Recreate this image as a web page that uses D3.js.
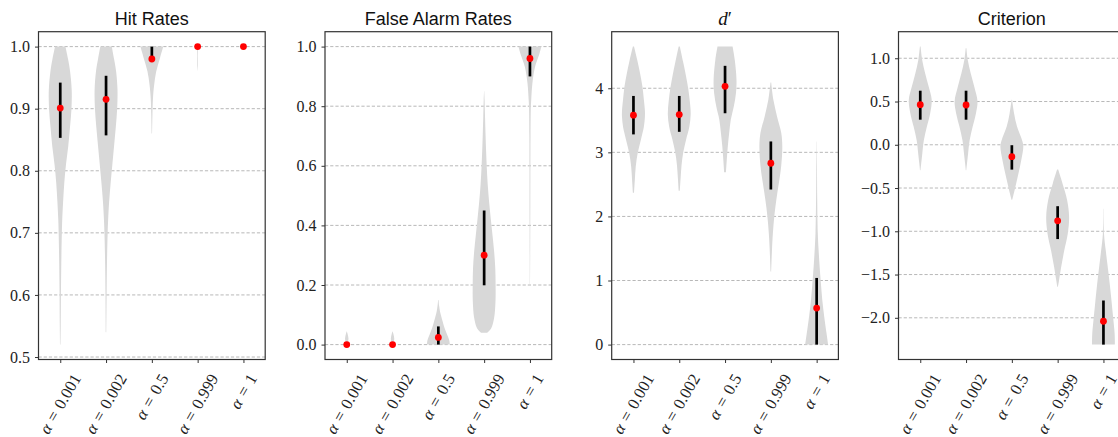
<!DOCTYPE html>
<html>
<head>
<meta charset="utf-8">
<script src="https://cdn.jsdelivr.net/npm/d3@7"></script>
<style>
  body { margin: 0; background: #ffffff; }
  svg { display: block; }
</style>
</head>
<body>
<script>
// ---------------- DATA ----------------
const alphaLabels = ["0.001", "0.002", "0.5", "0.999", "1"];
const positions = [1, 2, 3, 4, 5];

const titles = ["Hit Rates", "False Alarm Rates", "d′", "Criterion"];

// medians (red dots) and whisker ranges
const hitMedian = [0.901, 0.915, 0.980, 1.0, 1.0];
const hitLow    = [0.853, 0.857, 0.976, 1.0, 1.0];
const hitHigh   = [0.942, 0.953, 1.0, 1.0, 1.0];

const faMedian = [0.0, 0.0, 0.024, 0.30, 0.96];
const faLow    = [0.0, 0.0, 0.0, 0.199, 0.90];
const faHigh   = [0.0, 0.0, 0.061, 0.45, 1.0];

const dMedian = [3.58, 3.59, 4.03, 2.83, 0.57];
const dLow    = [3.28, 3.32, 3.61, 2.42, 0.0];
const dHigh   = [3.88, 3.88, 4.35, 3.17, 1.04];

const cMedian = [0.463, 0.460, -0.137, -0.879, -2.04];
const cLow    = [0.29, 0.29, -0.287, -1.09, -2.31];
const cHigh   = [0.625, 0.625, -0.005, -0.71, -1.80];

// violin profiles: [value, relative density (max = 1)]
const hitViolins = [
  [[0.52,0.02],[0.55,0.04],[0.60,0.06],[0.65,0.09],[0.70,0.14],[0.72,0.17],[0.75,0.25],[0.78,0.35],[0.81,0.5],[0.84,0.7],[0.87,0.85],[0.90,0.98],[0.93,1.0],[0.96,0.86],[0.98,0.68],[1.0,0.45]],
  [[0.54,0.02],[0.60,0.05],[0.65,0.08],[0.70,0.14],[0.72,0.18],[0.75,0.27],[0.78,0.4],[0.81,0.55],[0.84,0.7],[0.87,0.85],[0.90,0.97],[0.93,1.0],[0.96,0.88],[0.98,0.7],[1.0,0.5]],
  [[0.86,0.02],[0.89,0.05],[0.917,0.1],[0.938,0.2],[0.96,0.38],[0.981,0.7],[1.0,1.0]],
  [[0.96,0.0],[0.97,0.03],[0.99,0.03],[0.998,0.06],[1.0,0.15]],
  []
];
const faViolins = [
  [[0.0,0.3],[0.005,0.1],[0.02,0.15],[0.035,0.08],[0.045,0.0]],
  [[0.0,0.3],[0.005,0.1],[0.02,0.15],[0.035,0.08],[0.045,0.0]],
  [[0.0,1.0],[0.015,0.95],[0.033,0.77],[0.055,0.55],[0.078,0.37],[0.095,0.25],[0.11,0.15],[0.13,0.07],[0.15,0.02]],
  [[0.04,0.28],[0.055,0.62],[0.089,0.87],[0.145,0.99],[0.2,1.0],[0.257,0.97],[0.313,0.87],[0.37,0.72],[0.426,0.57],[0.48,0.43],[0.538,0.31],[0.594,0.23],[0.65,0.17],[0.707,0.12],[0.76,0.08],[0.82,0.04],[0.85,0.01]],
  [[0.2,0.01],[0.4,0.03],[0.6,0.04],[0.7,0.05],[0.8,0.08],[0.82,0.11],[0.875,0.21],[0.93,0.43],[0.976,0.83],[1.0,1.0]]
];
const dViolins = [
  [[2.37,0.05],[2.57,0.12],[2.78,0.2],[2.99,0.37],[3.19,0.64],[3.4,0.91],[3.55,1.0],[3.65,1.0],[3.82,0.91],[4.03,0.78],[4.23,0.58],[4.44,0.33],[4.65,0.05]],
  [[2.40,0.05],[2.6,0.12],[2.8,0.2],[3.0,0.35],[3.2,0.6],[3.4,0.88],[3.6,1.0],[3.8,0.92],[4.0,0.78],[4.2,0.58],[4.4,0.35],[4.65,0.05]],
  [[2.69,0.08],[2.88,0.15],[3.09,0.24],[3.3,0.36],[3.51,0.5],[3.71,0.76],[3.92,0.95],[4.13,1.0],[4.44,0.85],[4.65,0.66]],
  [[1.14,0.03],[1.48,0.1],[1.74,0.18],[2.0,0.3],[2.26,0.48],[2.52,0.7],[2.78,0.9],[3.09,1.0],[3.3,0.91],[3.56,0.54],[3.82,0.22],[4.09,0.03]],
  [[0.0,1.0],[0.18,0.86],[0.44,0.66],[0.7,0.49],[0.96,0.37],[1.22,0.26],[1.48,0.17],[1.74,0.1],[2.26,0.05],[2.7,0.03],[3.17,0.01]]
];
const cViolins = [
  [[-0.295,0.02],[-0.22,0.08],[-0.1,0.18],[0.05,0.31],[0.21,0.58],[0.36,0.86],[0.52,1.0],[0.67,0.74],[0.83,0.42],[0.98,0.17],[1.135,0.03]],
  [[-0.295,0.02],[-0.22,0.08],[-0.1,0.18],[0.05,0.31],[0.21,0.58],[0.36,0.86],[0.5,1.0],[0.67,0.72],[0.83,0.4],[0.98,0.15],[1.115,0.03]],
  [[-0.635,0.03],[-0.6,0.1],[-0.49,0.3],[-0.33,0.58],[-0.18,0.82],[-0.02,1.0],[0.05,0.9],[0.21,0.45],[0.36,0.2],[0.52,0.02]],
  [[-1.64,0.03],[-1.57,0.12],[-1.42,0.3],[-1.22,0.58],[-1.03,0.88],[-0.836,1.0],[-0.64,0.83],[-0.45,0.43],[-0.287,0.05]],
  [[-2.31,1.0],[-2.19,0.98],[-2.0,0.85],[-1.8,0.7],[-1.61,0.55],[-1.42,0.38],[-1.22,0.2],[-1.03,0.05],[-0.74,0.01]]
];

// y-axis domains and ticks
const hitDomain = [0.496, 1.024];
const faDomain  = [-0.05, 1.05];
const dDomain   = [-0.2325, 4.8825];
const cDomain   = [-2.482, 1.307];
const hitTicks = [0.5, 0.6, 0.7, 0.8, 0.9, 1.0];
const faTicks  = [0.0, 0.2, 0.4, 0.6, 0.8, 1.0];
const dTicks   = [0, 1, 2, 3, 4];
const cTicks   = [-2.0, -1.5, -1.0, -0.5, 0.0, 0.5, 1.0];

// ---------------- LAYOUT ----------------
const W = 1118, H = 437;
const panelLefts = [38.5, 325, 611.7, 898.5];
const panelW = 226.7;
const plotTop = 31.7, plotBottom = 359.5;

const panels = [
  { title: titles[0], italic: false, med: hitMedian, lo: hitLow, hi: hitHigh, vio: hitViolins, dom: hitDomain, ticks: hitTicks, fmt: d3.format(".1f") },
  { title: titles[1], italic: false, med: faMedian, lo: faLow, hi: faHigh, vio: faViolins, dom: faDomain, ticks: faTicks, fmt: d3.format(".1f") },
  { title: titles[2], italic: true,  med: dMedian, lo: dLow, hi: dHigh, vio: dViolins, dom: dDomain, ticks: dTicks, fmt: d3.format("d") },
  { title: titles[3], italic: false, med: cMedian, lo: cLow, hi: cHigh, vio: cViolins, dom: cDomain, ticks: cTicks, fmt: d3.format(".1f") }
];

const svg = d3.select("body").append("svg").attr("width", W).attr("height", H);

const serif = "'Liberation Serif', 'DejaVu Serif', serif";
const sans = "'Liberation Sans', 'DejaVu Sans', sans-serif";

panels.forEach((p, pi) => {
  const left = panelLefts[pi], right = left + panelW;
  const x = d3.scaleLinear().domain([0.525, 5.475]).range([left, right]);
  const y = d3.scaleLinear().domain(p.dom).range([plotBottom, plotTop]);
  const halfW = d3.scaleLinear().domain([0, 1]).range([0, x(1.25) - x(1)]);
  const g = svg.append("g");

  // grid
  g.selectAll("line.grid").data(p.ticks).join("line")
    .attr("class", "grid")
    .attr("x1", left).attr("x2", right)
    .attr("y1", d => y(d)).attr("y2", d => y(d))
    .attr("stroke", "#b0b0b0").attr("stroke-width", 0.9)
    .attr("stroke-dasharray", "3.2,2");

  // violins
  const area = d3.area()
    .y(d => y(d.v))
    .x0(d => x(d.pos) - halfW(d.w))
    .x1(d => x(d.pos) + halfW(d.w))
    .curve(d3.curveCatmullRom.alpha(0.5));
  p.vio.forEach((prof, i) => {
    if (!prof.length) return;
    const pts = prof.map(([v, w]) => ({ v, w, pos: positions[i] }));
    g.append("path").attr("d", area(pts)).attr("fill", "#d8d8d8").attr("stroke", "none");
  });

  // whiskers
  g.selectAll("line.wh").data(positions).join("line")
    .attr("class", "wh")
    .attr("x1", (d) => x(d)).attr("x2", (d) => x(d))
    .attr("y1", (d, i) => y(p.lo[i])).attr("y2", (d, i) => y(p.hi[i]))
    .attr("stroke", "#000").attr("stroke-width", 2.7);

  // medians
  g.selectAll("circle.med").data(positions).join("circle")
    .attr("class", "med")
    .attr("cx", d => x(d)).attr("cy", (d, i) => y(p.med[i]))
    .attr("r", 3.4).attr("fill", "#ff0000");

  // frame
  g.append("rect").attr("x", left).attr("y", plotTop)
    .attr("width", panelW).attr("height", plotBottom - plotTop)
    .attr("fill", "none").attr("stroke", "#333").attr("stroke-width", 1.2);

  // y axis
  const yAxis = d3.axisLeft(y).tickValues(p.ticks).tickFormat(p.fmt).tickSize(3.5).tickPadding(5);
  const ya = g.append("g").attr("transform", `translate(${left},0)`).call(yAxis);
  ya.select(".domain").remove();
  ya.selectAll(".tick line").attr("stroke", "#333").attr("stroke-width", 1);
  ya.selectAll(".tick text").attr("font-family", serif).attr("font-size", 16).attr("fill", "#222");

  // x axis ticks
  const xAxis = d3.axisBottom(x).tickValues(positions).tickFormat("").tickSize(3.5);
  const xa = g.append("g").attr("transform", `translate(0,${plotBottom})`).call(xAxis);
  xa.select(".domain").remove();
  xa.selectAll(".tick line").attr("stroke", "#333").attr("stroke-width", 1);

  // rotated x labels
  const ang = -60, rad = ang * Math.PI / 180;
  positions.forEach((pos, i) => {
    const lg = g.append("g");
    const t = lg.append("text").attr("font-family", serif).attr("font-size", 16.5)
      .attr("fill", "#222").attr("transform", `rotate(${ang})`);
    t.append("tspan").attr("font-style", "italic").text("α");
    t.append("tspan").text("\u2004=\u2004" + alphaLabels[i]);
    const bb = t.node().getBBox();
    const corners = [[bb.x, bb.y], [bb.x + bb.width, bb.y], [bb.x, bb.y + bb.height], [bb.x + bb.width, bb.y + bb.height]]
      .map(([cx, cy]) => [cx * Math.cos(rad) - cy * Math.sin(rad), cx * Math.sin(rad) + cy * Math.cos(rad)]);
    const minX = d3.min(corners, c => c[0]), maxX = d3.max(corners, c => c[0]);
    const minY = d3.min(corners, c => c[1]);
    lg.attr("transform", `translate(${x(pos) - (minX + maxX) / 2},${plotBottom + 11 - minY})`);
  });

  // title
  const tt = svg.append("text")
    .attr("x", (left + right) / 2).attr("y", 25)
    .attr("text-anchor", "middle").attr("fill", "#111");
  if (p.italic) {
    tt.attr("font-family", serif).attr("font-size", 19);
    tt.append("tspan").attr("font-style", "italic").text("d");
    tt.append("tspan").text("′");
  } else {
    tt.attr("font-family", sans).attr("font-size", 18).text(p.title);
  }
});
</script>
</body>
</html>
